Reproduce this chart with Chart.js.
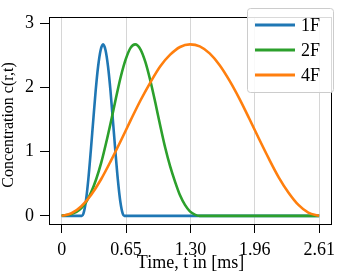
<!DOCTYPE html>
<html lang="en">
<head>
    <meta charset="UTF-8" />
    <title>Concentration c(r,t)</title>
    <style>
        html, body { margin: 0; padding: 0; background: #fff; }
        #wrap { width: 341px; height: 277px; }
    </style>
</head>
<body>
    <div id="wrap"><canvas id="chart-1"></canvas></div>

    <script src="https://cdn.jsdelivr.net/npm/chart.js"></script>
    <script>
        // values
        const t1F = [0, 0.205, 0.22, 0.245, 0.27, 0.295, 0.32, 0.345, 0.37, 0.395, 0.42, 0.445, 0.47, 0.495, 0.52, 0.545, 0.57, 0.595, 0.62, 0.635, 2.61];
        const c1F = [0, 0, 0.03, 0.22, 0.56, 1.00, 1.48, 1.95, 2.33, 2.58, 2.67, 2.58, 2.33, 1.95, 1.48, 1.00, 0.56, 0.22, 0.03, 0, 0];

        const t2F = [0, 0.1, 0.15, 0.2, 0.25, 0.3, 0.35, 0.4, 0.45, 0.5, 0.55, 0.6, 0.65, 0.7, 0.745, 0.8, 0.85, 0.9, 0.95, 1.0, 1.05, 1.1, 1.15, 1.2, 1.25, 1.3, 1.35, 1.4, 1.5, 2.61];
        const c2F = [0, 0.03, 0.06, 0.12, 0.22, 0.37, 0.57, 0.82, 1.13, 1.47, 1.83, 2.17, 2.44, 2.62, 2.67, 2.59, 2.39, 2.10, 1.76, 1.40, 1.06, 0.77, 0.53, 0.32, 0.17, 0.07, 0.02, 0, 0, 0];

        const t4F = [0, 0.1, 0.2, 0.3, 0.4, 0.5, 0.6, 0.7, 0.8, 0.9, 1.0, 1.1, 1.2, 1.3, 1.4, 1.5, 1.6, 1.7, 1.8, 1.9, 2.0, 2.1, 2.2, 2.3, 2.4, 2.5, 2.61];
        const c4F = [0, 0.04, 0.15, 0.33, 0.57, 0.86, 1.17, 1.49, 1.80, 2.08, 2.33, 2.51, 2.63, 2.67, 2.64, 2.53, 2.35, 2.11, 1.83, 1.52, 1.20, 0.89, 0.60, 0.36, 0.17, 0.05, 0];

        const seriesNames = ["1F", "2F", "4F"];
        const xTickValues = [0, 0.6525, 1.305, 1.9575, 2.61];
        const xTickLabels = ["0", "0.65", "1.30", "1.96", "2.61"];
        const yTickValues = [0, 1, 2, 3];
        const yTitle = "Concentration c(r,t)";

        const toPoints = (xs, ys) => xs.map((x, i) => ({ x: x, y: ys[i] }));

        Chart.defaults.font.family = "'Liberation Serif', 'DejaVu Serif', serif";
        Chart.defaults.color = "#000";

        // frame round the plot area, y title and a legend box inside the plot
        const framePlugin = {
            id: "frame",
            afterDraw(chart) {
                const { ctx, chartArea: a } = chart;
                ctx.save();
                ctx.strokeStyle = "#000";
                ctx.lineWidth = 1;
                ctx.strokeRect(Math.round(a.left) + 0.5, Math.round(a.top) + 0.5,
                    Math.round(a.right - a.left) - 1, Math.round(a.bottom - a.top));

                // y title
                ctx.save();
                ctx.translate(9, 125);
                ctx.rotate(-Math.PI / 2);
                ctx.font = "16px 'Liberation Serif'";
                ctx.textAlign = "center";
                ctx.textBaseline = "middle";
                ctx.fillStyle = "#000";
                ctx.fillText(yTitle, 0, 0);
                ctx.restore();

                // legend
                const bx = 247, by = 8, bw = 86, bh = 84;
                ctx.fillStyle = "rgba(255,255,255,0.85)";
                ctx.strokeStyle = "#cccccc";
                ctx.beginPath();
                ctx.roundRect(bx + 0.5, by + 0.5, bw, bh, 3);
                ctx.fill();
                ctx.stroke();
                ctx.font = "18px 'Liberation Serif'";
                ctx.textBaseline = "middle";
                chart.data.datasets.forEach((ds, i) => {
                    const y = 25 + i * 25;
                    ctx.strokeStyle = ds.borderColor;
                    ctx.lineWidth = 3;
                    ctx.beginPath();
                    ctx.moveTo(255, y);
                    ctx.lineTo(295, y);
                    ctx.stroke();
                    ctx.fillStyle = "#000";
                    ctx.fillText(ds.label, 301, y + 1);
                });
                ctx.restore();
            }
        };

        const ctx = document.getElementById("chart-1").getContext("2d");
        const chart = new Chart(ctx, {
            type: "scatter",
            data: {
                datasets: [
                    { label: seriesNames[0], data: toPoints(t1F, c1F), borderColor: "#1f77b4", order: 3 },
                    { label: seriesNames[1], data: toPoints(t2F, c2F), borderColor: "#2ca02c", order: 2 },
                    { label: seriesNames[2], data: toPoints(t4F, c4F), borderColor: "#ff7f0e", order: 1 },
                ],
            },
            options: {
                responsive: true,
                maintainAspectRatio: false,
                animation: false,
                showLine: true,
                elements: {
                    point: { radius: 0 },
                    line: { borderWidth: 2.6, cubicInterpolationMode: "monotone", fill: false },
                },
                layout: { padding: { top: 3, right: 2, left: 0, bottom: 0 } },
                plugins: {
                    legend: { display: false },
                    tooltip: { enabled: false },
                },
                scales: {
                    x: {
                        type: "linear",
                        min: -0.128,
                        max: 2.74,
                        afterBuildTicks: (s) => { s.ticks = xTickValues.map(v => ({ value: v })); },
                        afterFit: (s) => { s.height = 53; },
                        ticks: {
                            font: { size: 18 },
                            padding: 6,
                            maxRotation: 0,
                            callback: (v) => xTickLabels[xTickValues.indexOf(v)],
                        },
                        grid: { color: "#d6d6d6", tickColor: "#000", tickLength: 9, lineWidth: 1 },
                        border: { display: false },
                        title: { display: true, text: "Time, t in [ms]", font: { size: 18 }, padding: { top: 0, bottom: 3 } },
                    },
                    y: {
                        min: -0.127,
                        max: 3.1,
                        afterBuildTicks: (s) => { s.ticks = yTickValues.map(v => ({ value: v })); },
                        afterFit: (s) => { s.width = 49; },
                        ticks: { font: { size: 18 }, padding: 6, callback: (v) => String(v) },
                        grid: { drawOnChartArea: false, tickColor: "#000", tickLength: 9 },
                        border: { display: false },
                        title: { display: false },
                    },
                },
            },
            plugins: [framePlugin],
        });
    </script>
</body>
</html>
